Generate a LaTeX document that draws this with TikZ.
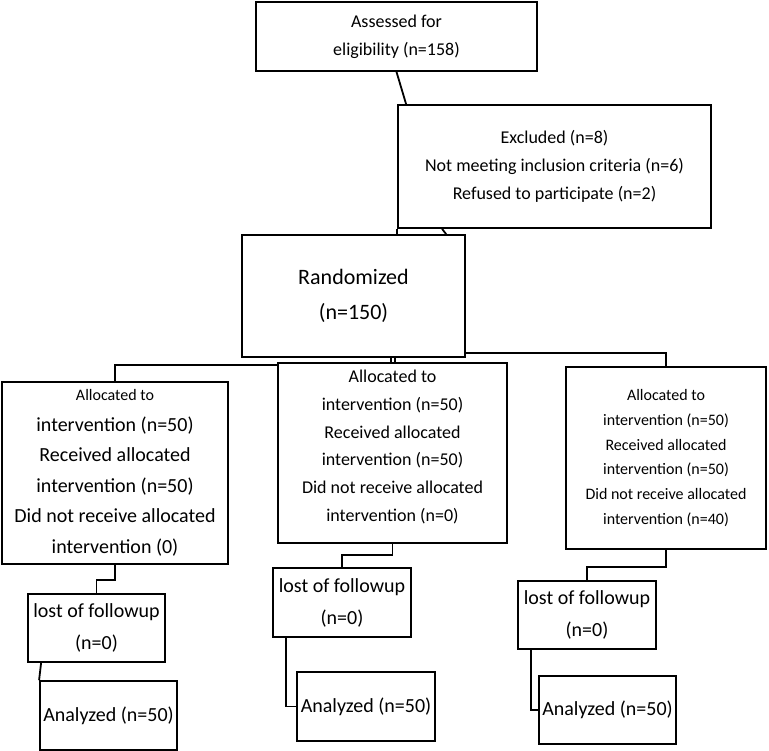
\documentclass[tikz,border=0pt]{standalone}
\usepackage{fontspec}
\setmainfont{Carlito}
\begin{document}
\begin{tikzpicture}[x=1pt,y=-1pt,
  box/.style={draw,line width=1.8pt,align=center,inner sep=1pt,anchor=center},
  txt/.style={align=center,inner sep=0pt},
  ln/.style={line width=1.8pt}]
\useasboundingbox (0,0) rectangle (769,751);
% top part
\node[box,minimum width=281pt,minimum height=69pt,font=\fontsize{18}{28}\selectfont] (top) at (396.5,36.5) {Assessed for\\eligibility (n=158)};
\node[box,minimum width=313pt,minimum height=123pt,font=\fontsize{18}{28}\selectfont] (excl) at (554.5,166.5) {Excluded (n=8)\\Not meeting inclusion criteria (n=6)\\Refused to participate (n=2)};
\node[box,minimum width=223pt,minimum height=122pt,font=\fontsize{22}{35}\selectfont] (rand) at (353.5,296) {Randomized\\(n=150)};
% allocation
\node[box,minimum width=226pt,minimum height=182pt,font=\fontsize{20}{30.5}\selectfont] (left) at (115,473) {{\fontsize{16}{30.5}\selectfont Allocated to}\\intervention (n=50)\\Received allocated\\intervention (n=50)\\Did not receive allocated\\intervention (0)};
\node[box,minimum width=229pt,minimum height=180pt] (mid) at (392.5,453) {};
\node[txt,font=\fontsize{18}{27.8}\selectfont] (midtext) at ([yshift=6pt]mid.center) {Allocated to\\intervention (n=50)\\Received allocated\\intervention (n=50)\\Did not receive allocated\\intervention (n=0)};
\node[box,minimum width=200pt,minimum height=182pt,font=\fontsize{16}{24.8}\selectfont] (right) at (666,458) {Allocated to\\intervention (n=50)\\Received allocated\\intervention (n=50)\\Did not receive allocated\\intervention (n=40)};
% follow-up
\node[box,minimum width=137pt,minimum height=68pt,font=\fontsize{20}{32}\selectfont] (lostL) at (96.5,628) {lost of followup\\(n=0)};
\node[box,minimum width=138pt,minimum height=69pt,font=\fontsize{20}{32}\selectfont] (lostM) at (342,602.5) {lost of followup\\(n=0)};
\node[box,minimum width=138pt,minimum height=68pt,font=\fontsize{20}{32}\selectfont] (lostR) at (587,615) {lost of followup\\(n=0)};
% analysis
\node[box,minimum width=137pt,minimum height=69pt,font=\fontsize{20}{24}\selectfont] (anaL) at (108.5,715.5) {Analyzed (n=50)};
\node[box,minimum width=138pt,minimum height=69pt,font=\fontsize{20}{24}\selectfont] (anaM) at (366,706.5) {Analyzed (n=50)};
\node[box,minimum width=137pt,minimum height=68pt,font=\fontsize{20}{24}\selectfont] (anaR) at (607.5,710) {Analyzed (n=50)};
% connectors
\draw[ln] (top.south) -- ([xshift=9pt]excl.north west);
\draw[ln] (excl.south west) -- (excl.south west |- rand.north);
\draw[ln] ([xshift=45pt]excl.south west) -- ([xshift=49pt]excl.south west |- rand.north);
\draw[ln] ([yshift=5pt]rand.south east) -| (right.north);
\draw[ln] (left.north) |- ([yshift=-3pt]mid.north west);
\draw[line width=1.2pt] ([xshift=-1.5pt]mid.north) -- ([xshift=-1.5pt]mid.north |- rand.south);
\draw[line width=1.2pt] ([xshift=2.5pt]mid.north) -- ([xshift=2.5pt]mid.north |- rand.south);
\draw[ln] (left.south) -- ++(0,15) -| (lostL.north);
\draw[ln] (mid.south) -- ++(0,11) -| (lostM.north);
\draw[ln] (right.south) -- ++(0,17) -| (lostR.north);
\draw[ln] ([xshift=14pt]lostL.south west) -- (anaL.north west);
\draw[ln] ([xshift=14pt]lostM.south west) |- (anaM.west);
\draw[ln] ([xshift=14pt]lostR.south west) |- (anaR.west);
\end{tikzpicture}
\end{document}
